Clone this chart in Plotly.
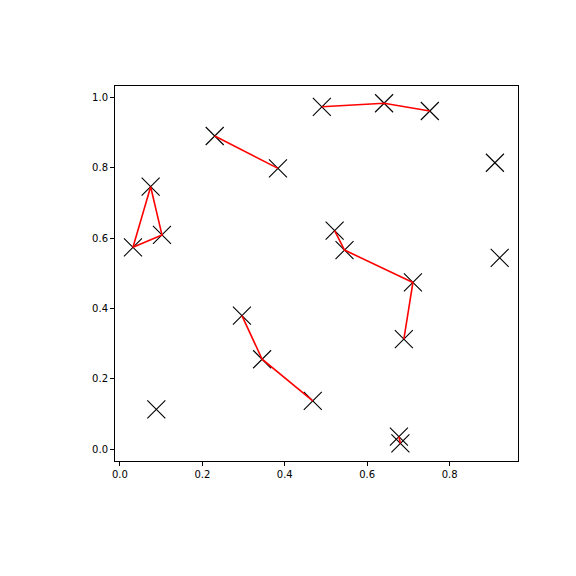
import plotly.graph_objects as go

# Point coordinates
point_x = [0.0745, 0.0316, 0.102, 0.230, 0.3835, 0.490, 0.641, 0.752, 0.910,
           0.521, 0.545, 0.9216, 0.711, 0.689, 0.468, 0.677, 0.6806, 0.296, 0.345, 0.0883]
point_y = [0.746, 0.574, 0.609, 0.890, 0.798, 0.973, 0.983, 0.961, 0.814,
           0.621, 0.566, 0.544, 0.474, 0.313, 0.138, 0.036, 0.017, 0.380, 0.256, 0.1136]

# Connected paths (indices into the point lists)
paths = [
    [0, 1, 2, 0],
    [3, 4],
    [5, 6, 7],
    [9, 10, 12, 13],
    [17, 18, 14],
    [15, 16],
]

x_ticks = [0.0, 0.2, 0.4, 0.6, 0.8]
y_ticks = [0.0, 0.2, 0.4, 0.6, 0.8, 1.0]

fig = go.Figure()

fig.add_trace(go.Scatter(
    x=point_x, y=point_y, mode="markers",
    marker=dict(symbol="x-thin-open", size=18, color="black",
                line=dict(color="black", width=1.1)),
    showlegend=False, hoverinfo="skip"))

for p in paths:
    fig.add_trace(go.Scatter(
        x=[point_x[i] for i in p], y=[point_y[i] for i in p], mode="lines",
        line=dict(color="red", width=1.6), showlegend=False, hoverinfo="skip"))

axis_common = dict(showgrid=False, zeroline=False, showline=True, linecolor="black",
                   linewidth=1, mirror=True, ticks="outside", ticklen=4, tickwidth=1,
                   tickcolor="black", tickfont=dict(family="DejaVu Sans", size=10, color="black"))

fig.update_xaxes(range=[-0.012, 0.966], tickvals=x_ticks,
                 ticktext=[f"{v:.1f}" for v in x_ticks], **axis_common)
fig.update_yaxes(range=[-0.033, 1.032], tickvals=y_ticks,
                 ticktext=[f"{v:.1f}" for v in y_ticks], **axis_common)

fig.update_layout(width=576, height=576, margin=dict(l=107, r=66, t=78, b=123),
                  plot_bgcolor="white", paper_bgcolor="white")

fig.write_html("out.html")
